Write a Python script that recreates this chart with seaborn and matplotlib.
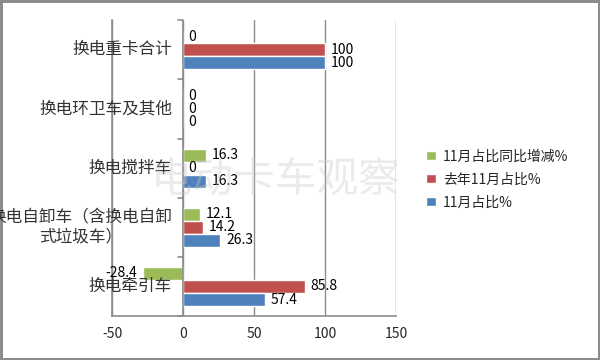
import matplotlib
matplotlib.use("Agg")
import matplotlib.pyplot as plt
import pandas as pd
import seaborn as sns

sns.set_style("white")
plt.rcParams["font.family"] = ["Noto Sans CJK SC", "DejaVu Sans"]

CATEGORIES = ["换电重卡合计", "换电环卫车及其他", "换电搅拌车",
              "换电自卸车（含换电自卸\n式垃圾车）", "换电牵引车"]
SERIES = ["11月占比同比增减%", "去年11月占比%", "11月占比%"]
YOY_CHANGE = [0, 0, 16.3, 12.1, -28.4]
LAST_YEAR = [100, 0, 0, 14.2, 85.8]
THIS_MONTH = [100, 0, 16.3, 26.3, 57.4]
COLORS = ["#9BBB59", "#C0504D", "#4F81BD"]
X_TICKS = [-50, 0, 50, 100, 150]

rows = []
for name, vals in zip(SERIES, [YOY_CHANGE, LAST_YEAR, THIS_MONTH]):
    for cat, v in zip(CATEGORIES, vals):
        rows.append({"category": cat, "series": name, "value": v})
df = pd.DataFrame(rows)

fig = plt.figure(figsize=(6, 3.6), dpi=100, edgecolor="#8c8c8c")
fig.patch.set_linewidth(2.5)
ax = fig.add_axes([0.187, 0.122, 0.473, 0.822])

sns.barplot(data=df, y="category", x="value", hue="series", order=CATEGORIES,
            hue_order=SERIES, palette=COLORS, orient="h", width=0.66,
            saturation=1, ax=ax, zorder=3)

for cont in ax.containers:
    ax.bar_label(cont, fmt="%g", padding=4, fontsize=10, color="black")

ax.set_xlim(-50, 150)
ax.set_ylim(len(CATEGORIES) - 0.5, -0.5)
ax.set_xticks(X_TICKS)
ax.set_xticklabels([str(t) for t in X_TICKS], fontsize=10)
ax.tick_params(axis="x", length=5, color="#8c8c8c", direction="out", pad=3)
ax.set_yticks([])
ax.set_xlabel("")
ax.set_ylabel("")
ax.grid(axis="x", color="#8c8c8c", linewidth=1, zorder=0)
for side in ["top", "right"]:
    ax.spines[side].set_visible(False)
for side in ["left", "bottom"]:
    ax.spines[side].set_color("#8c8c8c")
    ax.spines[side].set_linewidth(1.2)

# category axis at zero with boundary ticks
ax.axvline(0, color="#8c8c8c", linewidth=1.2, zorder=4)
for b in range(len(CATEGORIES) + 1):
    ax.plot([-3.5, 0], [b - 0.5, b - 0.5], color="#8c8c8c", linewidth=1.2,
            clip_on=False, zorder=4)

for i, cat in enumerate(CATEGORIES):
    ax.annotate(cat, xy=(0, i), xytext=(-8, 0), textcoords="offset points",
                ha="right", va="center", multialignment="center",
                fontsize=12, color="#333333", zorder=5,
                annotation_clip=False)

ax.legend(loc="upper left", bbox_to_anchor=(0.69, 0.62),
          bbox_transform=fig.transFigure, frameon=False, fontsize=10,
          handlelength=0.7, handleheight=0.7, labelspacing=0.65,
          handletextpad=0.5)

fig.text(0.46, 0.5, "电动卡车观察", fontsize=30, color="#c8c8c8", alpha=0.35,
         ha="center", va="center", zorder=10)

fig.savefig("out.png", dpi=100)
